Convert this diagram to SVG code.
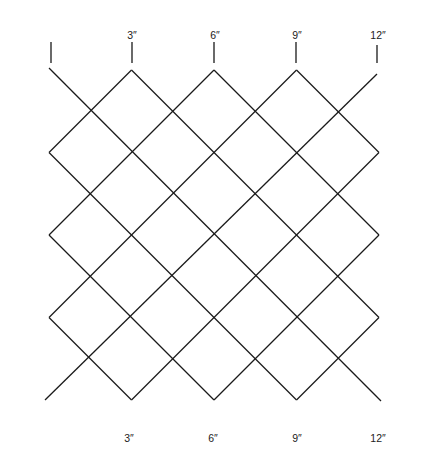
<svg xmlns="http://www.w3.org/2000/svg" width="436" height="470" viewBox="0 0 436 470">
  <style>
    .ln { stroke: #1a1a1a; stroke-width: 1.3; fill: none; stroke-linecap: butt; }
    .lbl { font-family: "Liberation Sans", Arial, sans-serif; font-size: 10.5px; fill: #222222; text-anchor: middle; }
  </style>
  <rect width="436" height="470" fill="#ffffff"/>
  <g id="lattice" class="ln">
    <line x1="49" y1="68" x2="381" y2="401"/>
    <line x1="131.5" y1="70" x2="379" y2="317.5"/>
    <line x1="214" y1="70" x2="379" y2="235"/>
    <line x1="296.5" y1="70" x2="379" y2="152.5"/>
    <line x1="49" y1="152.5" x2="296.5" y2="400"/>
    <line x1="49" y1="235" x2="214" y2="400"/>
    <line x1="49" y1="317.5" x2="131.5" y2="400"/>
    <line x1="49" y1="152.5" x2="131.5" y2="70"/>
    <line x1="49" y1="235" x2="214" y2="70"/>
    <line x1="49" y1="317.5" x2="296.5" y2="70"/>
    <line x1="45" y1="400" x2="377" y2="74"/>
    <line x1="131.5" y1="400" x2="379" y2="152.5"/>
    <line x1="214" y1="400" x2="379" y2="235"/>
    <line x1="296.5" y1="400" x2="379" y2="317.5"/>
  </g>
  <g id="ticks" class="ln">
    <line x1="51" y1="42" x2="51" y2="63"/>
    <line x1="132" y1="42" x2="132" y2="63"/>
    <line x1="214" y1="42" x2="214" y2="63"/>
    <line x1="296" y1="42" x2="296" y2="63"/>
    <line x1="377" y1="45" x2="377" y2="63"/>
  </g>
  <g id="top-labels">
    <text class="lbl" x="132" y="38.5">3″</text>
    <text class="lbl" x="215" y="38.5">6″</text>
    <text class="lbl" x="297" y="38.5">9″</text>
    <text class="lbl" x="378" y="38.5">12″</text>
  </g>
  <g id="bottom-labels">
    <text class="lbl" x="129" y="442">3″</text>
    <text class="lbl" x="213" y="442">6″</text>
    <text class="lbl" x="297" y="442">9″</text>
    <text class="lbl" x="378" y="442">12″</text>
  </g>
</svg>
